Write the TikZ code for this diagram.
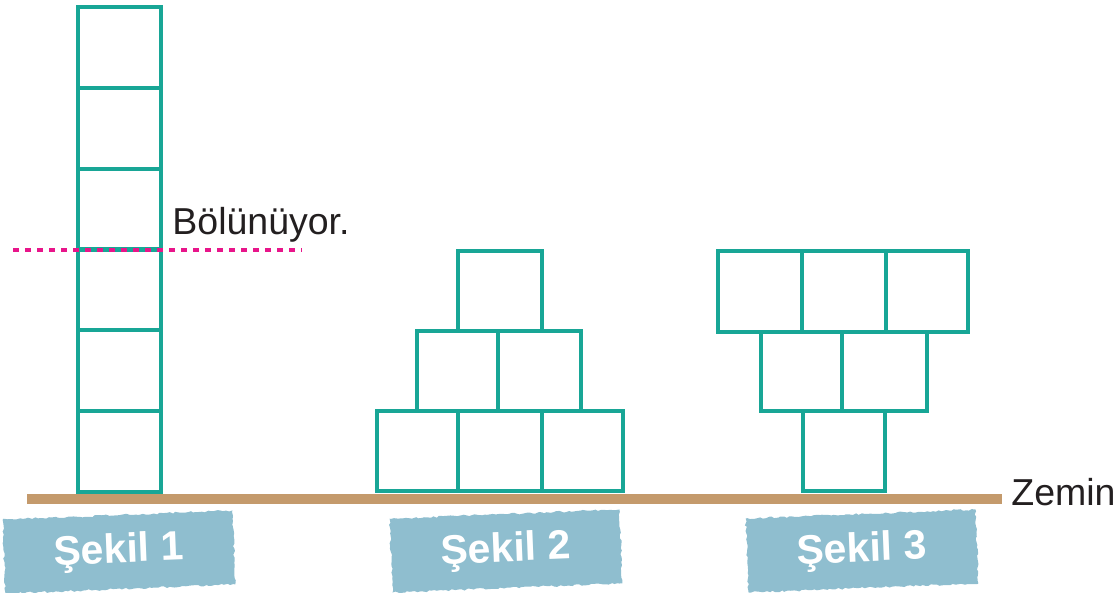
\documentclass[tikz,border=0pt]{standalone}
\usepackage{fontspec}
\setmainfont{Liberation Sans}
\usetikzlibrary{decorations.pathmorphing}
\definecolor{cubeteal}{RGB}{24,166,150}
\definecolor{groundbrown}{RGB}{196,154,108}
\definecolor{cutpink}{RGB}{232,21,138}
\definecolor{tagblue}{RGB}{143,190,207}
\definecolor{inkgray}{RGB}{35,31,32}
\tikzset{
  cube/.style={draw=cubeteal, line width=2.1pt, line join=miter},
  ground/.style={draw=groundbrown, line width=5pt},
  cutline/.style={draw=cutpink, line width=2pt, dash pattern=on 3pt off 3pt},
  note/.style={text=inkgray, font=\fontsize{18.75}{20}\selectfont, inner sep=0pt},
  tag/.style={fill=tagblue, text=white, font=\bfseries\fontsize{20.5}{22}\selectfont,
    minimum width=115pt, minimum height=37pt, rotate=2.3,
    decorate, decoration={random steps, segment length=1.5pt, amplitude=0.5pt}}
}
\begin{document}
\begin{tikzpicture}[x=0.5pt, y=-0.5pt]
\useasboundingbox (0,0) rectangle (1120,593);

% ground line
\coordinate (gL) at (27,499);
\coordinate (gR) at (1002,499);
\draw[ground] (gL) -- (gR);

% figure 1: single column of six cubes
\foreach \i in {0,...,5} {
  \draw[cube] (78,{7+80.83*\i}) rectangle (161,{7+80.83*(\i+1)});
}

% figure 2: pyramid
\foreach \a/\b in {377/458, 458/542, 542/623}
  \draw[cube] (\a,411) rectangle (\b,491);
\foreach \a/\b in {417/498, 498/581}
  \draw[cube] (\a,331) rectangle (\b,411);
\draw[cube] (458,251) rectangle (542,331);

% figure 3: inverted pyramid
\foreach \a/\b in {718/802, 802/886, 886/968}
  \draw[cube] (\a,251) rectangle (\b,332);
\foreach \a/\b in {761/842, 842/927}
  \draw[cube] (\a,332) rectangle (\b,411);
\draw[cube] (803,411) rectangle (885,491);

% cut marker
\coordinate (cL) at (13,250);
\coordinate (cR) at (302,250);
\draw[cutline] (cL) -- (cR);
\node[note, anchor=base west] (cutnote) at (172,235) {Bölünüyor.};

% ground label
\node[note, anchor=base west] (groundnote) at (1011,505) {Zemin};

% figure tags
\node[tag] (tag1) at (119,552) {Şekil 1};
\node[tag] (tag2) at (506,551) {Şekil 2};
\node[tag] (tag3) at (862,551) {Şekil 3};
\end{tikzpicture}
\end{document}
